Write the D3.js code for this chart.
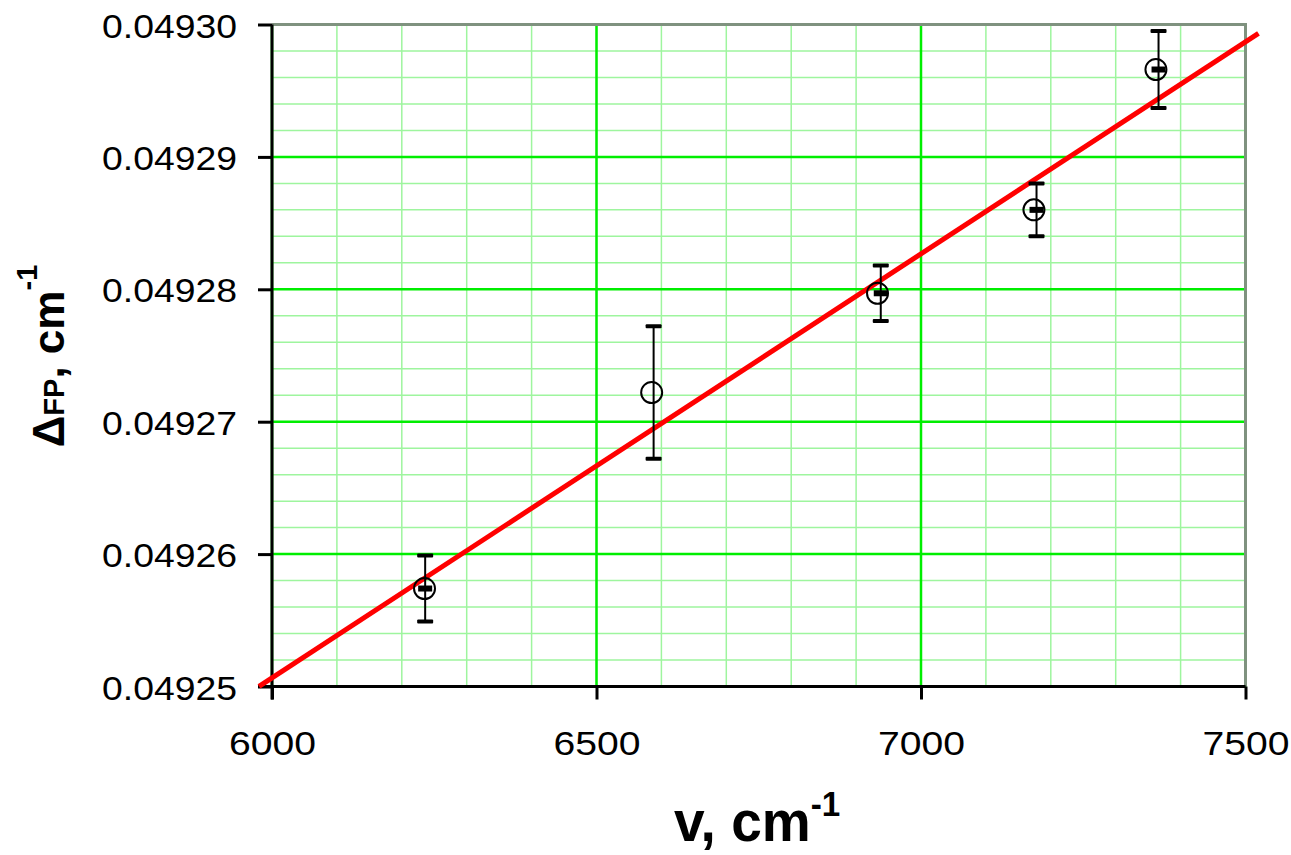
<!DOCTYPE html>
<html>
<head>
<meta charset="utf-8">
<script src="https://cdn.jsdelivr.net/npm/d3@7"></script>
<style>
  html, body { margin: 0; padding: 0; background: #fff; }
  svg { display: block; font-family: "Liberation Sans", Arial, sans-serif; }
</style>
</head>
<body>
<script>
// Measured wavenumbers (circles) and the matching error-bar series
const nu      = [6235, 6585, 6933, 7174, 7362];
const nuErr   = [6236, 6588, 6938, 7178, 7366];
const delta   = [0.0492574, 0.0492722, 0.0492797, 0.0492860, 0.0492966];
const errs    = [0.0000025, 0.0000050, 0.0000021, 0.0000020, 0.0000029];
const showDash = [true, false, true, true, true];

// Linear fit: delta = intercept + slope * nu
const fitSlope = 3.2027e-8;
const fitIntercept = 0.04905849;
const fitRange = [5980, 7520];

// Axis ticks
const xTicks = [6000, 6500, 7000, 7500];
const yTicks = [0.04925, 0.04926, 0.04927, 0.04928, 0.04929, 0.04930];

const W = 1291, H = 855;
const plot = { left: 272, top: 24.5, right: 1245.5, bottom: 686.5 };

const svg = d3.select("body").append("svg")
  .attr("width", W).attr("height", H);

const x = d3.scaleLinear().domain([6000, 7500]).range([plot.left, plot.right]);
const y = d3.scaleLinear().domain([0.04925, 0.04930]).range([plot.bottom, plot.top]);

// Minor grid
const grid = svg.append("g");
grid.selectAll("line.vmin").data(x.ticks(15)).join("line")
  .attr("x1", d => x(d)).attr("x2", d => x(d))
  .attr("y1", plot.top).attr("y2", plot.bottom)
  .attr("stroke", "#9ef59e").attr("stroke-width", 1.5);
grid.selectAll("line.hmin").data(y.ticks(25)).join("line")
  .attr("x1", plot.left).attr("x2", plot.right)
  .attr("y1", d => y(d)).attr("y2", d => y(d))
  .attr("stroke", "#9ef59e").attr("stroke-width", 1.5);

// Major grid
grid.selectAll("line.vmaj").data(xTicks).join("line")
  .attr("x1", d => x(d)).attr("x2", d => x(d))
  .attr("y1", plot.top).attr("y2", plot.bottom)
  .attr("stroke", "#00ee00").attr("stroke-width", 2.5);
grid.selectAll("line.hmaj").data(yTicks).join("line")
  .attr("x1", plot.left).attr("x2", plot.right)
  .attr("y1", d => y(d)).attr("y2", d => y(d))
  .attr("stroke", "#00ee00").attr("stroke-width", 2.5);

// Top and right frame
svg.append("path")
  .attr("d", `M${plot.left},${plot.top}H${plot.right}V${plot.bottom}`)
  .attr("fill", "none").attr("stroke", "#7f927f").attr("stroke-width", 3);

// Y axis
const yAxis = d3.axisLeft(y).tickValues(yTicks).tickSize(14).tickPadding(0)
  .tickFormat(d3.format(".5f"));
const gy = svg.append("g").attr("transform", `translate(${plot.left},0)`).call(yAxis);
gy.select(".domain").attr("stroke", "#000").attr("stroke-width", 3)
  .attr("d", `M0,${plot.top}V${plot.bottom + 13}`);
gy.selectAll(".tick line").attr("stroke", "#000").attr("stroke-width", 3);
gy.selectAll(".tick text")
  .attr("x", -35).attr("dy", null).attr("y", 12.5)
  .attr("font-size", 34).attr("fill", "#000")
  .attr("font-family", "'Liberation Sans', Arial, sans-serif")
  .attr("textLength", 135).attr("lengthAdjust", "spacingAndGlyphs");

// X axis
const xAxis = d3.axisBottom(x).tickValues(xTicks).tickSize(13).tickPadding(0)
  .tickFormat(d3.format("d"));
const gx = svg.append("g").attr("transform", `translate(0,${plot.bottom})`).call(xAxis);
gx.select(".domain").attr("stroke", "#000").attr("stroke-width", 3)
  .attr("d", `M${plot.left - 14},0H${plot.right}`);
gx.selectAll(".tick line").attr("stroke", "#000").attr("stroke-width", 3);
gx.selectAll(".tick text")
  .attr("dy", null).attr("y", 68.5)
  .attr("font-size", 34).attr("fill", "#000")
  .attr("font-family", "'Liberation Sans', Arial, sans-serif")
  .attr("textLength", 87).attr("lengthAdjust", "spacingAndGlyphs");

// Fit line
svg.append("line")
  .attr("x1", x(fitRange[0])).attr("y1", y(fitIntercept + fitSlope * fitRange[0]))
  .attr("x2", x(fitRange[1])).attr("y2", y(fitIntercept + fitSlope * fitRange[1]))
  .attr("stroke", "#ff0000").attr("stroke-width", 5);

// Error bars with their dash markers
const pts = nu.map((v, i) => ({ v, ve: nuErr[i], d: delta[i], e: errs[i], dash: showDash[i] }));
const eb = svg.append("g");
eb.selectAll("line.stem").data(pts).join("line")
  .attr("x1", p => x(p.ve)).attr("x2", p => x(p.ve))
  .attr("y1", p => y(p.d + p.e)).attr("y2", p => y(p.d - p.e))
  .attr("stroke", "#000").attr("stroke-width", 2);
eb.selectAll("rect.capt").data(pts).join("rect")
  .attr("x", p => x(p.ve) - 8).attr("y", p => y(p.d + p.e) - 2)
  .attr("width", 16).attr("height", 4).attr("rx", 1).attr("fill", "#000");
eb.selectAll("rect.capb").data(pts).join("rect")
  .attr("x", p => x(p.ve) - 8).attr("y", p => y(p.d - p.e) - 2)
  .attr("width", 16).attr("height", 4).attr("rx", 1).attr("fill", "#000");
eb.selectAll("rect.dash").data(pts.filter(p => p.dash)).join("rect")
  .attr("x", p => x(p.ve) - 7).attr("y", p => y(p.d) - 3)
  .attr("width", 14).attr("height", 6).attr("fill", "#000");

// Open circle markers
svg.append("g").selectAll("circle").data(pts).join("circle")
  .attr("cx", p => x(p.v)).attr("cy", p => y(p.d)).attr("r", 10.5)
  .attr("fill", "none").attr("stroke", "#000").attr("stroke-width", 2);

// Axis titles
const xt = svg.append("text")
  .attr("transform", "translate(674,841) scale(0.95,1)")
  .attr("font-weight", "bold").attr("font-size", 58).attr("fill", "#000");
xt.append("tspan").text("v, cm");
xt.append("tspan").attr("font-size", 35).attr("dy", -25).text("-1");

const yt = svg.append("text")
  .attr("transform", "translate(64,356) rotate(-90)")
  .attr("text-anchor", "middle")
  .attr("font-weight", "bold").attr("font-size", 44).attr("fill", "#000");
yt.append("tspan").text("Δ");
yt.append("tspan").attr("font-size", 29).text("FP");
yt.append("tspan").text(", cm");
yt.append("tspan").attr("font-size", 29).attr("dy", -27).text("-1");
</script>
</body>
</html>
